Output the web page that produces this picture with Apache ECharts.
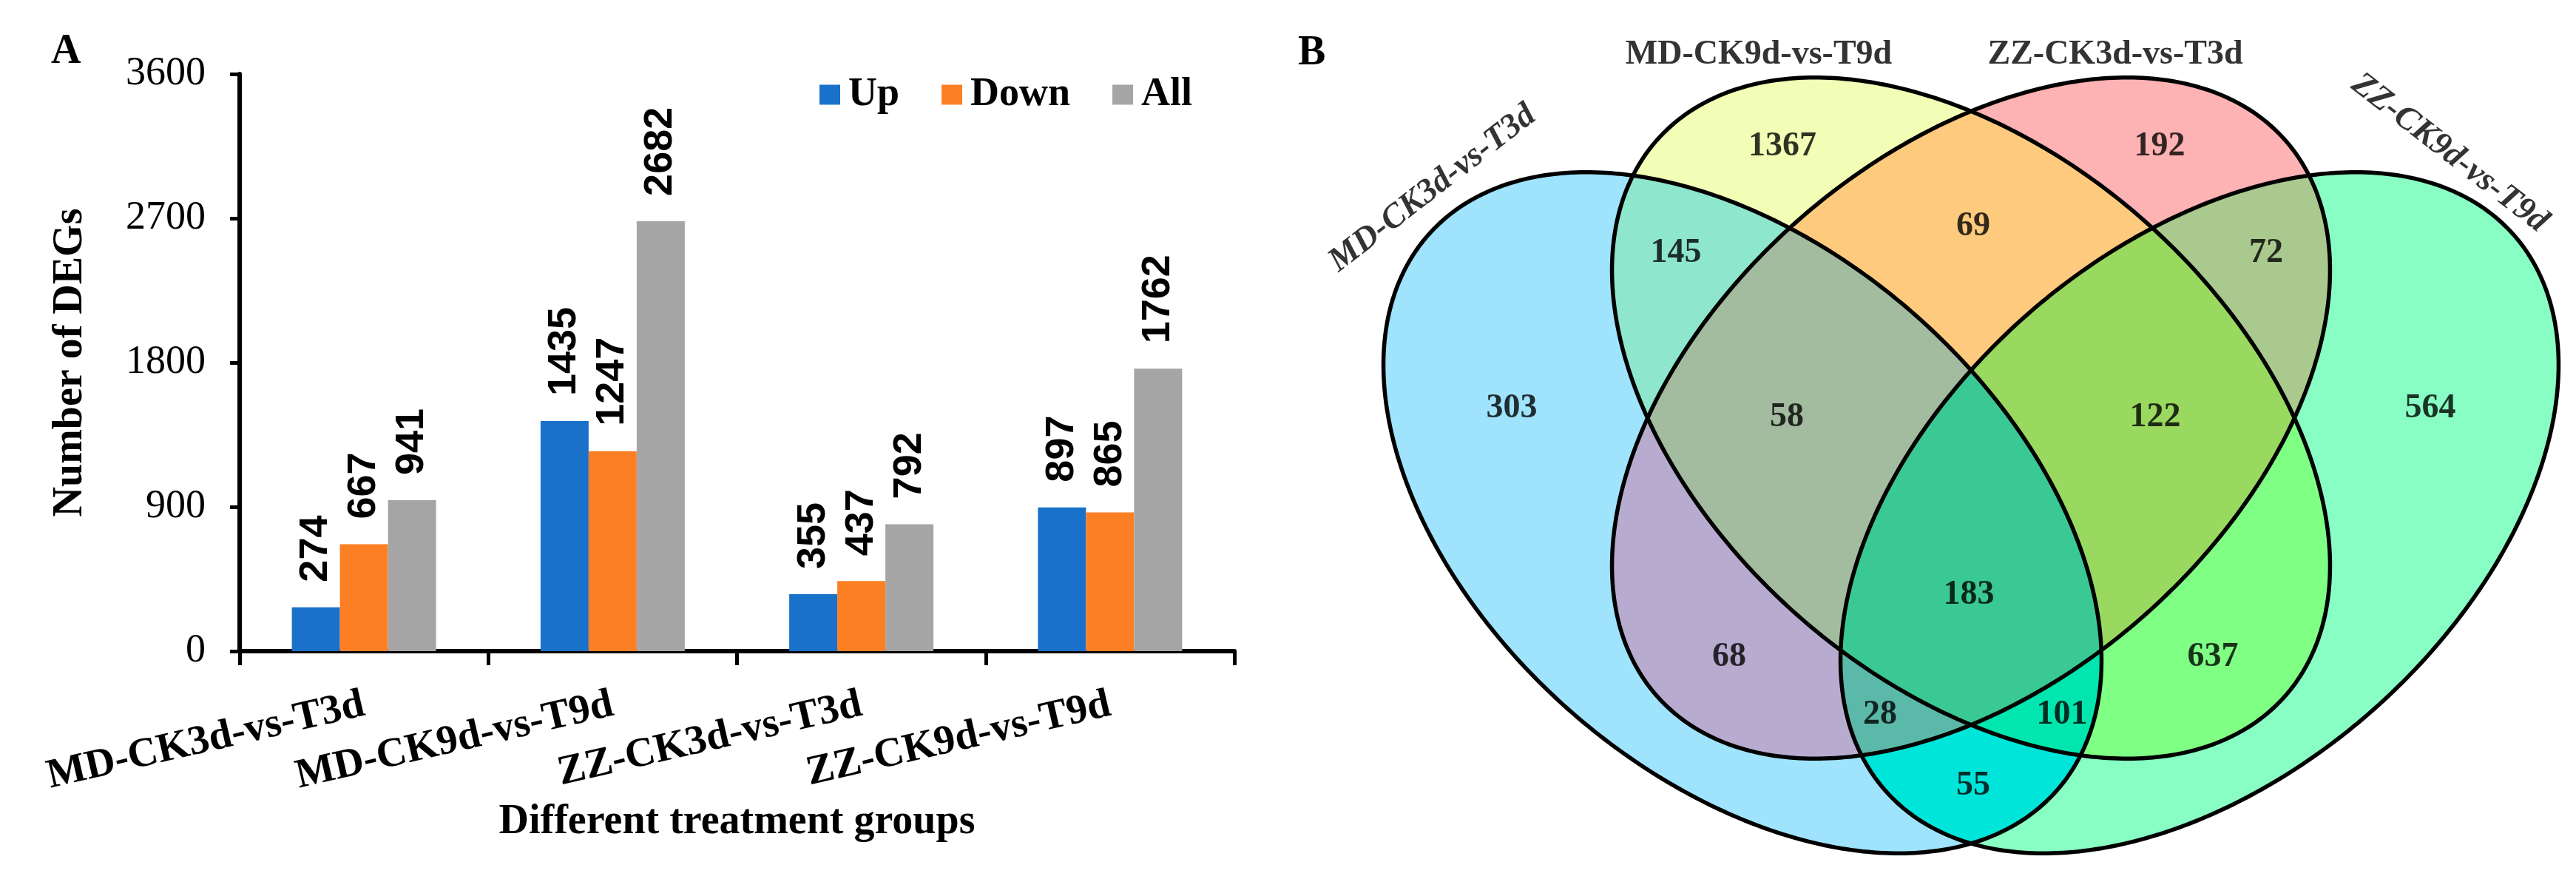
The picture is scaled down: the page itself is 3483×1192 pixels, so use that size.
<!DOCTYPE html>
<html><head><meta charset="utf-8">
<script src="https://cdn.jsdelivr.net/npm/echarts@6/dist/echarts.min.js"></script>
<style>html,body{margin:0;padding:0;background:#fff}#c{width:3483px;height:1192px}</style>
</head><body><div id="c"></div>
<script>
// ---------- DATA ----------
const categories = ['MD-CK3d-vs-T3d', 'MD-CK9d-vs-T9d', 'ZZ-CK3d-vs-T3d', 'ZZ-CK9d-vs-T9d'];
const seriesNames = ['Up', 'Down', 'All'];
const upValues = [274, 1435, 355, 897];
const downValues = [667, 1247, 437, 865];
const allValues = [941, 2682, 792, 1762];
const yTickValues = [0, 900, 1800, 2700, 3600];
const xAxisTitle = 'Different treatment groups';
const yAxisTitle = 'Number of DEGs';

const vennSetNames = ['MD-CK3d-vs-T3d', 'MD-CK9d-vs-T9d', 'ZZ-CK3d-vs-T3d', 'ZZ-CK9d-vs-T9d'];
const vennRegionKeys = ['A', 'B', 'C', 'D', 'AB', 'BC', 'CD', 'AD', 'AC', 'BD', 'ABC', 'BCD', 'ACD', 'ABD', 'ABCD'];
const vennRegionCounts = [303, 1367, 192, 564, 145, 69, 72, 55, 68, 637, 58, 122, 28, 101, 183];

// ---------- LAYOUT / STYLE ----------
const SERIF = 'Liberation Serif, Times New Roman, serif';
const barColors = ['#1a71c9', '#fd7f24', '#a5a5a5'];
const ELL = { a: 567, b: 355 };
const ellipseLayout = [
  { cx: 606, cy: 693, rot: 41.5 },
  { cx: 915, cy: 565, rot: 41.5 },
  { cx: 915, cy: 565, rot: -41.5 },
  { cx: 1224, cy: 693, rot: -41.5 }
];
const regionColors = {
  A: '#9fe3fd', B: '#f2fdb5', C: '#fdb2b3', D: '#88fdc4',
  AB: '#8ee6cc', BC: '#fecb7e', CD: '#a9c98e', AD: '#00e5da', AC: '#b7acd0', BD: '#7fff84',
  ABC: '#a3bb9f', BCD: '#99d95f', ACD: '#5bb9a9', ABD: '#00e6ae', ABCD: '#3ac995'
};
const setLabelLayout = [
  { x: 187, y: 255, rot: 37.7, italic: true },
  { x: 628, y: 74, rot: 0, italic: false },
  { x: 1110, y: 74, rot: 0, italic: false },
  { x: 1562, y: 207, rot: -37.7, italic: true }
];

// ---------- GEOMETRY ----------
function ellipsePts(e, n) {
  const t0 = e.rot * Math.PI / 180, c = Math.cos(t0), s = Math.sin(t0);
  const pts = [];
  for (let k = 0; k < n; k++) {
    const t = 2 * Math.PI * k / n;
    const x = ELL.a * Math.cos(t), y = ELL.b * Math.sin(t);
    pts.push([e.cx + x * c - y * s, e.cy + x * s + y * c]);
  }
  return pts;
}
function inEllipse(e, x, y) {
  const t0 = e.rot * Math.PI / 180, c = Math.cos(t0), s = Math.sin(t0);
  const dx = x - e.cx, dy = y - e.cy;
  const u = dx * c + dy * s, v = -dx * s + dy * c;
  return (u / ELL.a) ** 2 + (v / ELL.b) ** 2 <= 1;
}
function polyArea(p) {
  let s = 0;
  for (let i = 0; i < p.length; i++) { const a = p[i], b = p[(i + 1) % p.length]; s += a[0] * b[1] - b[0] * a[1]; }
  return s / 2;
}
function clipConvex(subject, clipPoly) {
  const sgn = Math.sign(polyArea(clipPoly));
  let out = subject;
  for (let i = 0; i < clipPoly.length && out.length; i++) {
    const A = clipPoly[i], B = clipPoly[(i + 1) % clipPoly.length];
    const inp = out; out = [];
    const inside = p => sgn * ((B[0] - A[0]) * (p[1] - A[1]) - (B[1] - A[1]) * (p[0] - A[0])) >= 0;
    const inter = (P, Q) => {
      const d = (P[0] - Q[0]) * (A[1] - B[1]) - (P[1] - Q[1]) * (A[0] - B[0]);
      const t = ((P[0] - A[0]) * (A[1] - B[1]) - (P[1] - A[1]) * (A[0] - B[0])) / d;
      return [P[0] + t * (Q[0] - P[0]), P[1] + t * (Q[1] - P[1])];
    };
    for (let j = 0; j < inp.length; j++) {
      const P = inp[j], Q = inp[(j + 1) % inp.length];
      const pin = inside(P), qin = inside(Q);
      if (pin) { out.push(P); if (!qin) out.push(inter(P, Q)); }
      else if (qin) out.push(inter(P, Q));
    }
  }
  return out;
}
const ellPolys = ellipseLayout.map(e => ellipsePts(e, 400));
const keyIdx = k => k.split('').map(ch => 'ABCD'.indexOf(ch));
const regionPolys = vennRegionKeys.map(k => {
  const idx = keyIdx(k);
  let p = ellPolys[idx[0]];
  for (let i = 1; i < idx.length; i++) p = clipConvex(p, ellPolys[idx[i]]);
  return p;
});
// label positions: deepest point of each exact region (pole of inaccessibility, sampled)
const coarse = ellipseLayout.map(e => ellipsePts(e, 120));
function distToBoundaries(x, y) {
  let best = Infinity;
  for (const poly of coarse) {
    for (let i = 0; i < poly.length; i++) {
      const A = poly[i], B = poly[(i + 1) % poly.length];
      const vx = B[0] - A[0], vy = B[1] - A[1];
      let t = ((x - A[0]) * vx + (y - A[1]) * vy) / (vx * vx + vy * vy);
      t = Math.max(0, Math.min(1, t));
      const dx = A[0] + t * vx - x, dy = A[1] + t * vy - y;
      const d = dx * dx + dy * dy;
      if (d < best) best = d;
    }
  }
  return Math.sqrt(best);
}
const poles = {};
for (let x = 0; x <= 1733; x += 6) {
  for (let y = 0; y <= 1192; y += 6) {
    let key = '';
    for (let i = 0; i < 4; i++) if (inEllipse(ellipseLayout[i], x, y)) key += 'ABCD'[i];
    if (!key) continue;
    const d = distToBoundaries(x, y);
    if (!poles[key] || d > poles[key][2]) poles[key] = [x, y, d];
  }
}
const regionLabelPos = vennRegionKeys.map(k => poles[k] ? [poles[k][0], poles[k][1]] : [0, 0]);

// ---------- CHART ----------
const chart = echarts.init(document.getElementById('c'), null, { renderer: 'canvas' });
const yMin = yTickValues[0], yMax = yTickValues[yTickValues.length - 1], yInt = yTickValues[1] - yTickValues[0];
const barLabel = {
  show: true, position: 'top', rotate: 90, align: 'left', verticalAlign: 'middle', distance: 34,
  fontFamily: 'Liberation Sans Narrow, Arial Narrow, Liberation Sans, sans-serif', fontWeight: 'bold', fontSize: 54, color: '#000'
};
const barData = [upValues, downValues, allValues];

const option = {
  animation: false,
  title: [
    { text: 'A', left: 64, top: 38, textStyle: { fontFamily: SERIF, fontWeight: 'bold', fontSize: 56, color: '#000' } },
    { text: 'B', left: 1750, top: 40, textStyle: { fontFamily: SERIF, fontWeight: 'bold', fontSize: 56, color: '#000' } }
  ],
  legend: {
    data: seriesNames, left: 1103, top: 96, itemWidth: 28, itemHeight: 27, itemGap: 57, icon: 'rect',
    textStyle: { fontFamily: SERIF, fontWeight: 'bold', fontSize: 54, color: '#000', padding: [0, 0, 0, 6] }
  },
  grid: [
    { left: 324, top: 100, width: 1345, height: 780 },
    { left: 1750, top: 0, width: 1733, height: 1192 }
  ],
  xAxis: [
    {
      type: 'category', gridIndex: 0, data: categories,
      axisLine: { lineStyle: { color: '#000', width: 6 } },
      axisTick: { show: true, length: 19, lineStyle: { color: '#000', width: 5 } },
      axisLabel: { rotate: 13, margin: 72, interval: 0, fontFamily: SERIF, fontWeight: 'bold', fontSize: 56, color: '#000' },
      name: xAxisTitle, nameLocation: 'middle', nameGap: 194,
      nameTextStyle: { fontFamily: SERIF, fontWeight: 'bold', fontSize: 56, color: '#000' }
    },
    { type: 'value', gridIndex: 1, min: 0, max: 1733, show: false }
  ],
  yAxis: [
    {
      type: 'value', gridIndex: 0, min: yMin, max: yMax, interval: yInt,
      axisLine: { show: true, lineStyle: { color: '#000', width: 6 } },
      axisTick: { show: true, length: 13, lineStyle: { color: '#000', width: 5 } },
      splitLine: { show: false },
      axisLabel: { margin: 46, fontFamily: SERIF, fontSize: 54, color: '#000', formatter: v => String(v) },
      name: yAxisTitle, nameLocation: 'middle', nameRotate: 90, nameGap: 200,
      nameTextStyle: { fontFamily: SERIF, fontWeight: 'bold', fontSize: 56, color: '#000' }
    },
    { type: 'value', gridIndex: 1, min: 0, max: 1192, inverse: true, show: false }
  ],
  series: [
    ...seriesNames.map((n, i) => ({
      name: n, type: 'bar', xAxisIndex: 0, yAxisIndex: 0, data: barData[i],
      barWidth: 65, barGap: '0%', itemStyle: { color: barColors[i] }, label: barLabel
    })),
    {
      type: 'custom', xAxisIndex: 1, yAxisIndex: 1, silent: true, clip: false, z: 2,
      data: vennRegionKeys.map((k, i) => [regionLabelPos[i][0], regionLabelPos[i][1], vennRegionCounts[i]]),
      renderItem: (params, api) => ({
        type: 'polygon',
        shape: { points: regionPolys[params.dataIndex].map(p => api.coord(p)) },
        style: { fill: regionColors[vennRegionKeys[params.dataIndex]], stroke: null, lineWidth: 0 }
      })
    },
    {
      type: 'custom', xAxisIndex: 1, yAxisIndex: 1, silent: true, clip: false, z: 3,
      data: ellipseLayout.map(e => [e.cx, e.cy]),
      renderItem: (params, api) => ({
        type: 'polygon',
        shape: { points: ellPolys[params.dataIndex].map(p => api.coord(p)) },
        style: { fill: 'none', stroke: '#000', lineWidth: 5.5 }
      })
    },
    {
      type: 'scatter', xAxisIndex: 1, yAxisIndex: 1, silent: true, z: 4,
      symbolSize: 1, itemStyle: { color: 'rgba(0,0,0,0)' },
      data: vennRegionKeys.map((k, i) => [regionLabelPos[i][0], regionLabelPos[i][1], vennRegionCounts[i]]),
      label: {
        show: true, position: 'inside', formatter: p => String(p.data[2]),
        fontFamily: SERIF, fontWeight: 'bold', fontSize: 46, color: '#000'
      }
    },
    {
      type: 'scatter', xAxisIndex: 1, yAxisIndex: 1, silent: true, z: 4,
      symbolSize: 1, itemStyle: { color: 'rgba(0,0,0,0)' },
      data: vennSetNames.map((n, i) => ({
        value: [setLabelLayout[i].x, setLabelLayout[i].y],
        label: { rotate: setLabelLayout[i].rot, fontStyle: setLabelLayout[i].italic ? 'italic' : 'normal' },
        name: n
      })),
      label: {
        show: true, position: 'inside', formatter: p => p.name,
        fontFamily: SERIF, fontWeight: 'bold', fontSize: 46, color: '#000'
      }
    }
  ]
};
chart.setOption(option);
</script></body></html>
